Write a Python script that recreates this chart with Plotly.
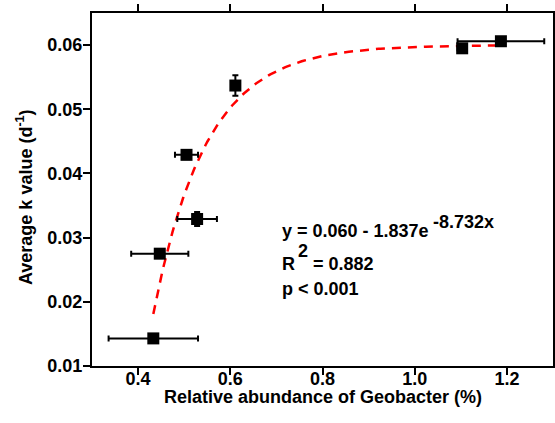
import numpy as np
import plotly.graph_objects as go

# Data
abundance = [0.433, 0.447, 0.528, 0.505, 0.611, 1.103, 1.187]
k_value = [0.0143, 0.0275, 0.0329, 0.0429, 0.0537, 0.0595, 0.0606]
abundance_err = [0.097, 0.062, 0.043, 0.025, 0.009, 0.010, 0.094]
k_err = [0.0, 0.0, 0.0011, 0.0004, 0.0016, 0.0006, 0.0005]

x_ticks = [0.4, 0.6, 0.8, 1.0, 1.2]
y_ticks = [0.01, 0.02, 0.03, 0.04, 0.05, 0.06]

# Fitted model printed on the chart: y = a - b * exp(-c x)
fit_a, fit_b, fit_c = 0.060, 1.837, 8.732
fit_x = np.linspace(min(abundance), max(abundance), 200)
fit_y = fit_a - fit_b * np.exp(-fit_c * fit_x)

FONT = "Liberation Sans, Arial, sans-serif"
W, H = 555, 423
ML, MR, MT, MB = 92, 2, 13, 57


def px_x(p):  # pixel -> paper x
    return (p - ML) / (W - ML - MR)


def px_y(p):  # pixel -> paper y
    return (H - MB - p) / (H - MT - MB)


fig = go.Figure()
fig.add_trace(go.Scatter(
    x=fit_x, y=fit_y, mode="lines",
    line=dict(color="#ff0000", width=2.5, dash="9px,7px"),
    hoverinfo="skip", showlegend=False))
fig.add_trace(go.Scatter(
    x=abundance, y=k_value, mode="markers",
    marker=dict(symbol="square", size=12, color="black"),
    error_x=dict(type="data", array=abundance_err, color="black", thickness=2, width=3),
    error_y=dict(type="data", array=k_err, color="black", thickness=2, width=3),
    showlegend=False))


def label(text, left_px, mid_px, size=18, angle=0, xanchor="left"):
    fig.add_annotation(x=px_x(left_px), y=px_y(mid_px), xref="paper", yref="paper",
                       xanchor=xanchor, yanchor="middle", text=text, showarrow=False,
                       textangle=angle, font=dict(family=FONT, size=size, color="black"))


# equation block
label("<b>y = 0.060 - 1.837e</b>", 280, 231)
label("<b>-8.732x</b>", 431, 222)
label("<b>R</b>", 280, 264)
label("<b>2</b>", 296, 251)
label("<b>= 0.882</b>", 311, 264)
label("<b>p &lt; 0.001</b>", 280, 289)

# axis titles
label("<b>Relative abundance of Geobacter (%)</b>", 323, 397, xanchor="center")
label("<b>Average k value (d<sup>-1</sup>)</b>", 24, 197, angle=-90, xanchor="center")

axis_common = dict(
    showline=True, linecolor="black", linewidth=2, mirror="ticks",
    ticks="outside", ticklen=7, tickwidth=2, tickcolor="black",
    showgrid=False, zeroline=False, automargin=False,
    tickfont=dict(family=FONT, size=18, color="black"),
)
fig.update_xaxes(range=[0.3, 1.3], tickvals=x_ticks, ticklabelstandoff=-12,
                 ticktext=[f"<b>{v:.1f}</b>" for v in x_ticks], **axis_common)
fig.update_yaxes(range=[0.01, 0.065], tickvals=y_ticks, ticklabelstandoff=-3,
                 ticktext=[f"<b>{v:.2f}</b>" for v in y_ticks], **axis_common)

fig.update_layout(
    width=W, height=H,
    margin=dict(l=ML, r=MR, t=MT, b=MB),
    plot_bgcolor="white", paper_bgcolor="white",
)

fig.write_html("out.html", config={"displayModeBar": False},
               post_script="document.body.style.margin='0';document.body.style.overflow='hidden';")
